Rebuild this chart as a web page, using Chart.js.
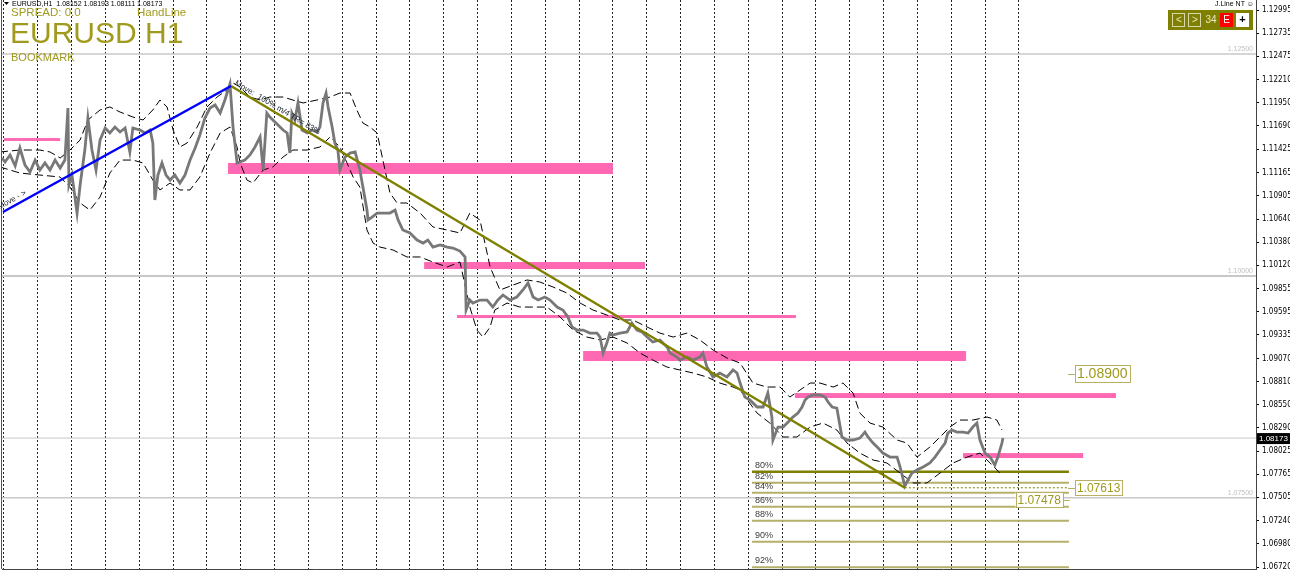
<!DOCTYPE html>
<html>
<head>
<meta charset="utf-8">
<script src="https://cdn.jsdelivr.net/npm/chart.js@4.4.1/dist/chart.umd.min.js"></script>
<style>
  html, body { margin: 0; padding: 0; background: #fff; }
  #wrap { width: 1290px; height: 572px; }
</style>
</head>
<body>
<div id="wrap"><canvas id="chart" width="1290" height="572"></canvas></div>
<script>
/************************ DATA ************************/
// x = trading days from the first separator, y = EURUSD price
const closePath = [
  [-0.06,1.11328],[0.03,1.11283],[0.18,1.11362],[0.33,1.11238],[0.47,1.11441],[0.62,1.11249],
  [0.77,1.11170],[0.92,1.11305],[1.06,1.11193],[1.21,1.11272],[1.36,1.11193],[1.51,1.11305],
  [1.66,1.11215],[1.80,1.11305],[1.89,1.11891],[1.92,1.11024],[2.01,1.11136],[2.16,1.10708],
  [2.25,1.11024],[2.39,1.11418],[2.48,1.11779],[2.60,1.11418],[2.72,1.11193],[2.84,1.11531],
  [2.99,1.11666],[3.13,1.11610],[3.28,1.11677],[3.43,1.11621],[3.58,1.11666],[3.72,1.11396],
  [3.81,1.11666],[4.02,1.11643],[4.17,1.11610],[4.32,1.11643],[4.40,1.11497],[4.46,1.10855],
  [4.55,1.11136],[4.67,1.11272],[4.79,1.11136],[4.91,1.11080],[5.05,1.11136],[5.20,1.11046],
  [5.35,1.11136],[5.50,1.11305],[5.65,1.11441],[5.79,1.11587],[5.94,1.11779],[6.09,1.11891],
  [6.24,1.11925],[6.39,1.11835],[6.53,1.11981],[6.68,1.12162],[6.77,1.11677],[6.89,1.11272],
  [7.12,1.11305],[7.27,1.11362],[7.42,1.11452],[7.57,1.11565],[7.66,1.11193],[7.77,1.11835],
  [7.86,1.11790],[7.95,1.11756],[8.16,1.11677],[8.25,1.11643],[8.37,1.11610],[8.45,1.11384],
  [8.51,1.11835],[8.60,1.11756],[8.69,1.11948],[8.81,1.11643],[8.96,1.11610],[9.10,1.11643],
  [9.25,1.11621],[9.34,1.11677],[9.43,1.11948],[9.52,1.12060],[9.58,1.11903],[9.70,1.11677],
  [9.78,1.11497],[9.87,1.11418],[9.93,1.11193],[10.08,1.11339],[10.23,1.11384],[10.38,1.11396],
  [10.52,1.11193],[10.61,1.11001],[10.73,1.10742],[10.76,1.10630],[10.88,1.10663],[11.03,1.10708],
  [11.20,1.10708],[11.41,1.10708],[11.56,1.10742],[11.65,1.10630],[11.79,1.10517],[12.00,1.10483],
  [12.21,1.10404],[12.39,1.10370],[12.53,1.10404],[12.68,1.10325],[12.89,1.10348],[13.10,1.10325],
  [13.27,1.10314],[13.48,1.10280],[13.63,1.10213],[13.66,1.09616],[13.77,1.09728],[13.86,1.09694],
  [14.07,1.09728],[14.28,1.09728],[14.45,1.09649],[14.60,1.09728],[14.75,1.09785],[14.96,1.09728],
  [15.16,1.09762],[15.34,1.09841],[15.49,1.09920],[15.64,1.09762],[15.79,1.09728],[15.99,1.09762],
  [16.14,1.09728],[16.35,1.09649],[16.52,1.09616],[16.67,1.09537],[16.79,1.09424],[16.94,1.09390],
  [17.12,1.09390],[17.32,1.09356],[17.53,1.09356],[17.62,1.09311],[17.71,1.09131],[17.82,1.09244],
  [17.91,1.09356],[18.00,1.09334],[18.21,1.09356],[18.42,1.09368],[18.56,1.09469],[18.71,1.09390],
  [18.86,1.09368],[19.01,1.09311],[19.18,1.09255],[19.39,1.09278],[19.60,1.09199],[19.69,1.09131],
  [19.89,1.09086],[19.98,1.09052],[20.19,1.09086],[20.37,1.09052],[20.57,1.09086],[20.66,1.09131],
  [20.78,1.08973],[20.96,1.08861],[21.16,1.08906],[21.37,1.08861],[21.55,1.08940],[21.67,1.08906],
  [21.76,1.08793],[21.90,1.08635],[22.05,1.08602],[22.26,1.08523],[22.44,1.08523],[22.58,1.08680],
  [22.70,1.08410],[22.73,1.08151],[22.88,1.08297],[23.03,1.08297],[23.18,1.08354],[23.32,1.08410],
  [23.47,1.08455],[23.59,1.08523],[23.68,1.08602],[23.77,1.08635],[23.91,1.08658],[24.12,1.08658],
  [24.27,1.08635],[24.36,1.08579],[24.48,1.08523],[24.62,1.08511],[24.77,1.08185],[24.92,1.08151],
  [25.10,1.08151],[25.30,1.08173],[25.45,1.08241],[25.54,1.08185],[25.69,1.08117],[25.84,1.08061],
  [25.98,1.08004],[26.19,1.07959],[26.40,1.07959],[26.49,1.07847],[26.63,1.07633],[26.72,1.07700],
  [26.84,1.07779],[26.99,1.07813],[27.17,1.07847],[27.37,1.07892],[27.52,1.07959],[27.67,1.08038],
  [27.82,1.08117],[27.90,1.08230],[28.02,1.08264],[28.17,1.08241],[28.35,1.08241],[28.50,1.08230],
  [28.64,1.08297],[28.76,1.08342],[28.85,1.08151],[29.00,1.08004],[29.15,1.07959],[29.29,1.07869],
  [29.38,1.07959],[29.50,1.08117],[29.53,1.08173]
];

const upperBand = [
  [-0.12,1.11396],[0.47,1.11418],[1.06,1.11418],[1.36,1.11396],[1.66,1.11328],[1.95,1.11418],
  [2.25,1.11531],[2.48,1.11756],[2.84,1.11869],[3.13,1.11903],[3.43,1.11846],[3.81,1.11790],
  [4.11,1.11756],[4.40,1.11869],[4.61,1.11981],[4.82,1.11903],[5.00,1.11643],[5.20,1.11452],
  [5.41,1.11497],[5.71,1.11677],[6.00,1.11903],[6.30,1.12015],[6.59,1.12094],[6.77,1.12173],
  [6.98,1.12128],[7.27,1.12015],[7.57,1.11981],[7.86,1.12015],[8.25,1.12015],[8.54,1.11981],
  [8.84,1.11948],[9.25,1.11981],[9.64,1.12015],[9.93,1.12060],[10.23,1.12060],[10.43,1.11869],
  [10.61,1.11722],[10.82,1.11677],[11.03,1.11610],[11.20,1.11305],[11.41,1.10934],[11.62,1.10821],
  [11.91,1.10821],[12.30,1.10708],[12.68,1.10551],[13.10,1.10517],[13.48,1.10483],[13.77,1.10708],
  [14.07,1.10630],[14.37,1.10100],[14.66,1.09841],[15.05,1.09897],[15.46,1.09954],[15.84,1.09931],
  [16.23,1.09875],[16.64,1.09807],[17.03,1.09694],[17.41,1.09616],[17.82,1.09559],[18.21,1.09503],
  [18.59,1.09503],[19.01,1.09424],[19.39,1.09356],[19.78,1.09311],[20.19,1.09356],[20.57,1.09278],
  [20.96,1.09165],[21.37,1.09075],[21.76,1.09018],[22.14,1.08793],[22.55,1.08748],[22.94,1.08748],
  [23.23,1.08635],[23.53,1.08714],[23.83,1.08793],[24.12,1.08793],[24.51,1.08748],[24.80,1.08793],
  [25.10,1.08680],[25.30,1.08455],[25.60,1.08342],[25.98,1.08297],[26.40,1.08151],[26.69,1.08117],
  [26.99,1.07959],[27.37,1.08072],[27.67,1.08185],[27.96,1.08297],[28.26,1.08376],[28.64,1.08376],
  [29.06,1.08410],[29.35,1.08376],[29.50,1.08264]
];

const lowerBand = [
  [-0.12,1.11227],[0.47,1.11159],[1.06,1.11136],[1.66,1.11114],[1.95,1.11001],[2.25,1.10821],
  [2.54,1.10742],[2.84,1.10889],[3.13,1.11159],[3.43,1.11305],[3.81,1.11305],[4.11,1.11272],
  [4.40,1.11080],[4.61,1.10968],[4.91,1.11046],[5.20,1.10968],[5.50,1.10968],[5.79,1.11114],
  [6.09,1.11384],[6.39,1.11610],[6.68,1.11677],[6.89,1.11452],[6.98,1.11272],[7.18,1.11080],
  [7.36,1.11046],[7.66,1.11193],[7.95,1.11227],[8.25,1.11339],[8.54,1.11418],[8.96,1.11418],
  [9.34,1.11452],[9.64,1.11565],[9.93,1.11452],[10.14,1.11272],[10.32,1.11114],[10.52,1.11001],
  [10.73,1.10517],[10.91,1.10370],[11.11,1.10325],[11.50,1.10292],[11.91,1.10213],[12.30,1.10213],
  [12.68,1.10156],[13.10,1.10100],[13.48,1.10156],[13.77,1.09649],[13.98,1.09390],[14.16,1.09311],
  [14.37,1.09424],[14.51,1.09616],[14.87,1.09694],[15.25,1.09649],[15.64,1.09649],[16.05,1.09649],
  [16.44,1.09537],[16.82,1.09390],[17.23,1.09311],[17.62,1.09278],[18.00,1.09311],[18.42,1.09244],
  [18.80,1.09131],[19.18,1.09052],[19.60,1.08973],[19.98,1.08940],[20.37,1.08906],[20.78,1.08861],
  [21.16,1.08793],[21.55,1.08748],[21.76,1.08714],[22.26,1.08455],[22.64,1.08342],[23.03,1.08185],
  [23.44,1.08185],[23.83,1.08297],[24.21,1.08342],[24.62,1.08264],[24.92,1.08117],[25.30,1.08004],
  [25.69,1.07926],[26.10,1.07892],[26.49,1.07779],[26.87,1.07667],[27.28,1.07667],[27.67,1.07779],
  [28.05,1.07892],[28.47,1.07959],[28.85,1.08004],[29.15,1.07892],[29.44,1.07779]
];

const yTicks = [1.12995, 1.12735, 1.12475, 1.12210, 1.11950, 1.11690, 1.11425, 1.11165, 1.10905,
  1.10640, 1.10380, 1.10120, 1.09855, 1.09595, 1.09335, 1.09070, 1.08810, 1.08550, 1.08290,
  1.08025, 1.07765, 1.07505, 1.07240, 1.06980, 1.06720];
const daySeparators = [0,1,2,3,4,5,6,7,8,9,10,11,12,13,14,15,16,17,18,19,20,21,22,23,24,25,26,27,28,29,30];

// supply / demand zones : start day, end day, top price, bottom price
const zoneStart  = [0.00, 6.62, 12.42, 13.39, 17.12, 23.38, 28.35];
const zoneEnd    = [1.66, 18.00, 18.95, 23.41, 28.44, 32.87, 31.90];
const zoneTop    = [1.11553, 1.11272, 1.10156, 1.09559, 1.09154, 1.08680, 1.08004];
const zoneBottom = [1.11520, 1.11148, 1.10077, 1.09525, 1.09041, 1.08624, 1.07948];

// move lines
const upMoveDays = [-0.03, 6.71];
const upMovePrices = [1.10720, 1.12139];
const downMoveDays = [6.71, 26.63];
const downMovePrices = [1.12139, 1.07613];

// retracement levels
const fibNames  = ["80%", "82%", "84%", "86%", "88%", "90%", "92%"];
const fibLevels = [1.07794, 1.07670, 1.07557, 1.07400, 1.07242, 1.07005, 1.06717];
const fibFrom = 22.11;
const fibTo = 31.48;

const roundLevels = [1.12500, 1.10000, 1.07500];
const lastPrice = 1.08173;
const lowLevel = 1.07613;
const lowFrom = 26.63;
const targetLevel = 1.08900;
const stopLevel = 1.07478;

/************************ SETTINGS ************************/
const X_MIN = -0.059, X_MAX = 37.01;
const Y_MIN = 1.06698, Y_MAX = 1.13108;
const OLIVE = "#808000";
const TXT_OLIVE = "#a09a1e";
const FONT = '"Liberation Sans", Arial, sans-serif';

const pts = (arr) => arr.map((p) => ({ x: p[0], y: p[1] }));
const seg = (xs, ys) => xs.map((v, i) => ({ x: v, y: ys[i] }));

/************************ DATASETS ************************/
let datasets = [];
datasets.push({ data: seg(upMoveDays, upMovePrices), borderColor: "#0000ff", borderWidth: 2.5, order: 0 });
datasets.push({ data: seg(downMoveDays, downMovePrices), borderColor: OLIVE, borderWidth: 2.5, order: 0 });
datasets.push({ data: pts(closePath), borderColor: "#787878", borderWidth: 2.8, order: 1 });
datasets.push({ data: pts(upperBand), borderColor: "#000", borderWidth: 1, borderDash: [8, 4], order: 2 });
datasets.push({ data: pts(lowerBand), borderColor: "#000", borderWidth: 1, borderDash: [8, 4], order: 2 });
fibLevels.forEach((lv, i) => {
  datasets.push({
    data: seg([fibFrom, fibTo], [lv, lv]),
    borderColor: i == 0 ? OLIVE : "#b4b06a",
    borderWidth: i == 0 ? 2.5 : 2,
    order: 3,
  });
});
datasets.push({ data: seg([lowFrom, fibTo], [lowLevel, lowLevel]), borderColor: OLIVE, borderWidth: 1, borderDash: [2, 2], order: 3 });
roundLevels.forEach((lv, i) => {
  datasets.push({ data: seg([X_MIN, X_MAX], [lv, lv]), borderColor: "#c8c8c8", borderWidth: i == 1 ? 2 : 1.5, order: 5 });
});
datasets.push({ data: seg([X_MIN, X_MAX], [lastPrice, lastPrice]), borderColor: "#c8c8c8", borderWidth: 1, order: 5 });

/************************ OVERLAYS ************************/
function priceTag(ctx, text, left, yMid, size, tickFrom) {
  ctx.font = size + "px " + FONT;
  const w = ctx.measureText(text).width + 4;
  const h = size + 3;
  ctx.strokeStyle = "#b8b060";
  ctx.lineWidth = 1;
  ctx.beginPath();
  ctx.moveTo(tickFrom, Math.round(yMid) + 0.5);
  ctx.lineTo(tickFrom < left ? left : left + w, Math.round(yMid) + 0.5);
  ctx.stroke();
  ctx.fillStyle = "#fff";
  ctx.fillRect(left, yMid - h / 2, w, h);
  ctx.strokeRect(Math.round(left) + 0.5, Math.round(yMid - h / 2) + 0.5, Math.round(w), Math.round(h));
  ctx.fillStyle = TXT_OLIVE;
  ctx.textAlign = "left";
  ctx.textBaseline = "middle";
  ctx.fillText(text, left + 2, yMid + 1);
}

const overlay = {
  id: "overlay",
  beforeDatasetsDraw(chart) {
    const { ctx, chartArea: a, scales: { x, y } } = chart;
    ctx.save();
    ctx.beginPath();
    ctx.rect(a.left, a.top, a.width, a.height);
    ctx.clip();
    ctx.fillStyle = "#ff69b4";
    zoneStart.forEach((s, i) => {
      const x0 = x.getPixelForValue(s), x1 = x.getPixelForValue(zoneEnd[i]);
      const y0 = y.getPixelForValue(zoneTop[i]), y1 = y.getPixelForValue(zoneBottom[i]);
      ctx.fillRect(x0, y0, x1 - x0, y1 - y0);
    });
    ctx.restore();
  },
  afterDraw(chart) {
    const { ctx, chartArea: a, scales: { x, y } } = chart;
    ctx.save();

    // left window border
    ctx.strokeStyle = "#555";
    ctx.lineWidth = 1;
    ctx.beginPath();
    ctx.moveTo(1.5, 0);
    ctx.lineTo(1.5, a.bottom);
    ctx.stroke();

    // round level captions
    ctx.font = "7px " + FONT;
    ctx.fillStyle = "#c0c0c0";
    ctx.textAlign = "right";
    ctx.textBaseline = "bottom";
    roundLevels.forEach((lv) => ctx.fillText(lv.toFixed(5), a.right - 3, y.getPixelForValue(lv) - 1));

    // retracement captions
    ctx.font = "9px " + FONT;
    ctx.fillStyle = "#3a3a3a";
    ctx.textAlign = "left";
    const fx0 = x.getPixelForValue(fibFrom);
    const fx1 = x.getPixelForValue(fibTo);
    fibNames.forEach((t, i) => ctx.fillText(t, fx0 + 3, y.getPixelForValue(fibLevels[i]) - 2));

    // price tags
    priceTag(ctx, targetLevel.toFixed(5), fx1 + 6, y.getPixelForValue(targetLevel), 14, fx1 - 1);
    priceTag(ctx, lowLevel.toFixed(5), fx1 + 6, y.getPixelForValue(lowLevel), 12, fx1 - 1);
    ctx.font = "12px " + FONT;
    const sw = ctx.measureText(stopLevel.toFixed(5)).width + 4;
    priceTag(ctx, stopLevel.toFixed(5), fx1 - 6 - sw, y.getPixelForValue(stopLevel), 12, fx1 + 1);

    // move captions
    ctx.font = "8px " + FONT;
    ctx.fillStyle = "#1c2430";
    ctx.textAlign = "left";
    ctx.textBaseline = "alphabetic";
    let bx0 = x.getPixelForValue(upMoveDays[0]), by0 = y.getPixelForValue(upMovePrices[0]);
    let bx1 = x.getPixelForValue(upMoveDays[1]), by1 = y.getPixelForValue(upMovePrices[1]);
    ctx.save();
    ctx.translate(bx0, by0);
    ctx.rotate(Math.atan2(by1 - by0, bx1 - bx0));
    ctx.fillText("Move - >", -2, -4);
    ctx.restore();
    let ox0 = x.getPixelForValue(downMoveDays[0]), oy0 = y.getPixelForValue(downMovePrices[0]);
    let ox1 = x.getPixelForValue(downMoveDays[1]), oy1 = y.getPixelForValue(downMovePrices[1]);
    ctx.save();
    ctx.translate(ox0, oy0);
    ctx.rotate(Math.atan2(oy1 - oy0, ox1 - ox0));
    ctx.fillText("Move:  100% m/4 TR= 83%", 2, -3);
    ctx.restore();

    // header
    ctx.fillStyle = "#000";
    ctx.font = "7px " + FONT;
    ctx.fillText("EURUSD,H1  1.08152 1.08193 1.08111 1.08173", 12, 6);
    ctx.beginPath();
    ctx.moveTo(4, 2); ctx.lineTo(9, 2); ctx.lineTo(6.5, 5); ctx.closePath(); ctx.fill();
    ctx.fillStyle = TXT_OLIVE;
    ctx.font = "11.5px " + FONT;
    ctx.fillText("SPREAD: 0.0", 11, 16);
    ctx.fillText("HandLine", 137, 16);
    ctx.font = "30px " + FONT;
    ctx.fillText("EURUSD H1", 10, 43);
    ctx.font = "11px " + FONT;
    ctx.fillText("BOOKMARK", 11, 61);

    // top right panel
    ctx.fillStyle = "#000";
    ctx.font = "7px " + FONT;
    ctx.textAlign = "right";
    ctx.fillText("J.Line NT \u263A", a.right - 2, 6);
    ctx.fillStyle = OLIVE;
    ctx.fillRect(1168, 10, 85, 20);
    ctx.strokeStyle = "#d8d8a8";
    ctx.strokeRect(1172.5, 13.5, 12, 13);
    ctx.strokeRect(1188.5, 13.5, 12, 13);
    ctx.fillStyle = "#ff0000";
    ctx.fillRect(1220, 13, 13, 14);
    ctx.fillStyle = "#fff";
    ctx.fillRect(1236, 13, 13, 14);
    ctx.textAlign = "center";
    ctx.textBaseline = "middle";
    ctx.font = "10px " + FONT;
    ctx.fillStyle = "#e8e8c8";
    ctx.fillText("<", 1179, 20);
    ctx.fillText(">", 1195, 20);
    ctx.fillText("34", 1211, 20);
    ctx.fillStyle = "#fff";
    ctx.fillText("E", 1226.5, 20);
    ctx.fillStyle = "#000";
    ctx.font = "bold 11px " + FONT;
    ctx.fillText("+", 1242.5, 20);

    // current price tag on the axis
    const py = y.getPixelForValue(lastPrice);
    ctx.fillStyle = "#000";
    ctx.fillRect(a.right + 1, py - 5, 34, 11);
    ctx.fillStyle = "#fff";
    ctx.font = "8px " + FONT;
    ctx.textAlign = "left";
    ctx.fillText(lastPrice.toFixed(5), a.right + 3, py + 0.5);

    ctx.restore();
  },
};

/************************ CHART ************************/
const ctx = document.getElementById("chart");
const config = {
  type: "line",
  data: { datasets: datasets },
  options: {
    responsive: false,
    animation: false,
    layout: { padding: { left: 2, top: 0, right: 0, bottom: 0 } },
    elements: { point: { radius: 0 }, line: { tension: 0 } },
    plugins: { legend: { display: false }, tooltip: { enabled: false } },
    scales: {
      x: {
        type: "linear",
        min: X_MIN,
        max: X_MAX,
        afterBuildTicks: (s) => { s.ticks = daySeparators.map((v) => ({ value: v })); },
        ticks: { display: false },
        grid: { color: "#222", lineWidth: 1, drawTicks: false },
        border: { display: true, color: "#444", dash: [2, 2] },
        afterFit: (s) => { s.height = 3; s.paddingLeft = 0; s.paddingRight = 0; },
      },
      y: {
        type: "linear",
        position: "right",
        min: Y_MIN,
        max: Y_MAX,
        afterBuildTicks: (s) => { s.ticks = yTicks.map((v) => ({ value: v })); },
        ticks: {
          color: "#000",
          padding: 3,
          font: { family: '"Liberation Sans Narrow", "DejaVu Sans Condensed", "Liberation Sans", sans-serif', size: 8 },
          callback: (v) => Number(v).toFixed(5),
        },
        grid: { drawOnChartArea: false, tickLength: 3, color: "#000" },
        border: { color: "#444" },
        afterFit: (s) => { s.width = 34; s.paddingTop = 0; s.paddingBottom = 0; },
      },
    },
  },
  plugins: [overlay],
};

let myChart = new Chart(ctx, config);
</script>
</body>
</html>
